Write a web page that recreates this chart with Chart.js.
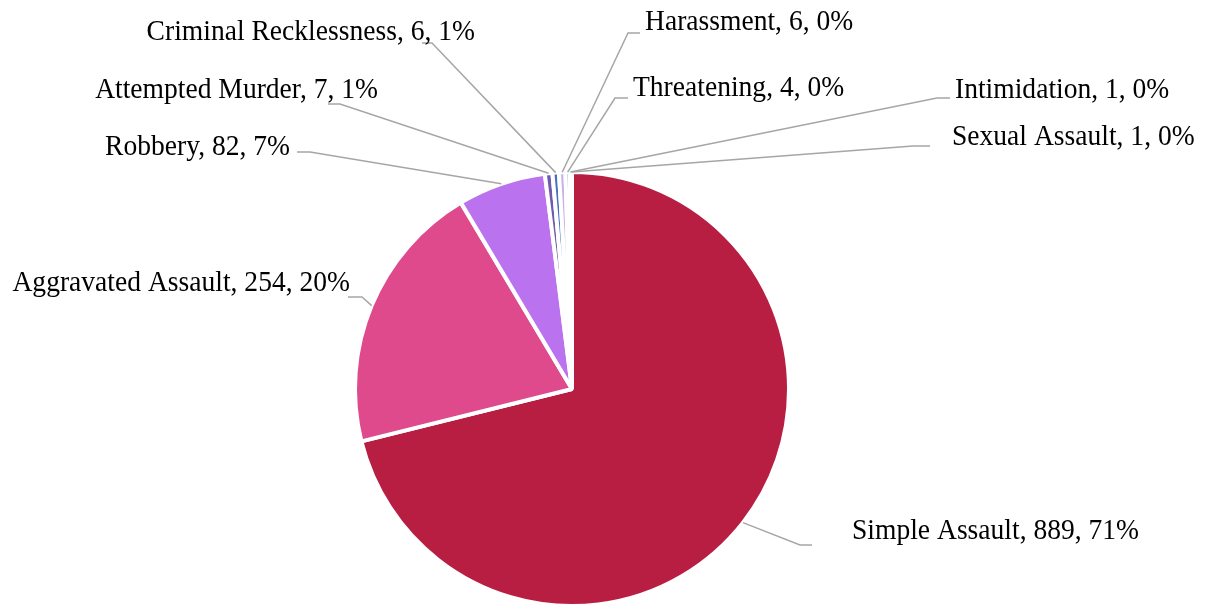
<!DOCTYPE html>
<html>
<head>
<meta charset="utf-8">
<script src="https://cdn.jsdelivr.net/npm/chart.js@4"></script>
<style>
  html, body { margin: 0; padding: 0; background: #ffffff; }
  #wrap { width: 1211px; height: 608px; position: relative; }
</style>
</head>
<body>
<div id="wrap"><canvas id="c" width="1211" height="608"></canvas></div>
<script>
// ---- data ----
const categories = ["Simple Assault", "Aggravated Assault", "Robbery", "Attempted Murder",
  "Criminal Recklessness", "Harassment", "Threatening", "Intimidation", "Sexual Assault"];
const counts = [889, 254, 82, 7, 6, 6, 4, 1, 1];
const percentLabels = ["71%", "20%", "7%", "1%", "1%", "0%", "0%", "0%", "0%"];

// ---- styles ----
const sliceColors = ["#b71e42", "#de4a8c", "#bb72ee", "#6e5aae", "#4a6fbd",
  "#c9b3e6", "#3f8a99", "#7fb2c4", "#a5c8d4"];

// label layout: text anchor + leader elbow (layout only)
const labelLayout = [
  { tx: 852, ty: 531, align: "left",  ex: 800, ey: 545, hx: 812 },
  { tx: 350, ty: 283, align: "right", ex: 362, ey: 297, hx: 348 },
  { tx: 290, ty: 147, align: "right", ex: 310, ey: 152, hx: 297 },
  { tx: 378, ty: 90,  align: "right", ex: 340, ey: 104, hx: 328 },
  { tx: 475, ty: 32,  align: "right", ex: 432, ey: 43,  hx: 422 },
  { tx: 645, ty: 22,  align: "left",  ex: 628, ey: 33,  hx: 640 },
  { tx: 633, ty: 88,  align: "left",  ex: 615, ey: 98,  hx: 628 },
  { tx: 955, ty: 90,  align: "left",  ex: 937, ey: 98,  hx: 950 },
  { tx: 952, ty: 137, align: "left",  ex: 913, ey: 146, hx: 930 }
];

const labelPlugin = {
  id: "leaderLabels",
  afterDatasetsDraw(chart) {
    const ctx = chart.ctx;
    const meta = chart.getDatasetMeta(0);
    ctx.save();
    meta.data.forEach((arc, i) => {
      const p = arc.getProps(["x", "y", "startAngle", "endAngle", "outerRadius"], true);
      const mid = (p.startAngle + p.endAngle) / 2;
      const ax = p.x + Math.cos(mid) * p.outerRadius;
      const ay = p.y + Math.sin(mid) * p.outerRadius;
      const L = labelLayout[i];
      ctx.strokeStyle = "#a6a6a6";
      ctx.lineWidth = 1.5;
      ctx.beginPath();
      ctx.moveTo(ax, ay);
      ctx.lineTo(L.ex, L.ey);
      ctx.lineTo(L.hx, L.ey);
      ctx.stroke();
      const text = categories[i] + ", " + counts[i] + ", " + percentLabels[i];
      ctx.fillStyle = "#000000";
      ctx.font = "26px 'Liberation Serif', 'Times New Roman', serif";
      ctx.textAlign = L.align;
      ctx.textBaseline = "middle";
      ctx.save();
      ctx.translate(L.tx, L.ty);
      ctx.scale(1.06, 1.12);
      ctx.fillText(text, 0, 0);
      ctx.restore();
    });
    ctx.restore();
  }
};

new Chart(document.getElementById("c"), {
  type: "pie",
  data: {
    labels: categories,
    datasets: [{
      data: counts,
      backgroundColor: sliceColors,
      borderColor: "#ffffff",
      borderWidth: 4
    }]
  },
  options: {
    responsive: false,
    animation: false,
    layout: { padding: { top: 170, bottom: 0, left: 300, right: 367 } },
    plugins: {
      legend: { display: false },
      tooltip: { enabled: false }
    }
  },
  plugins: [labelPlugin]
});
</script>
</body>
</html>
